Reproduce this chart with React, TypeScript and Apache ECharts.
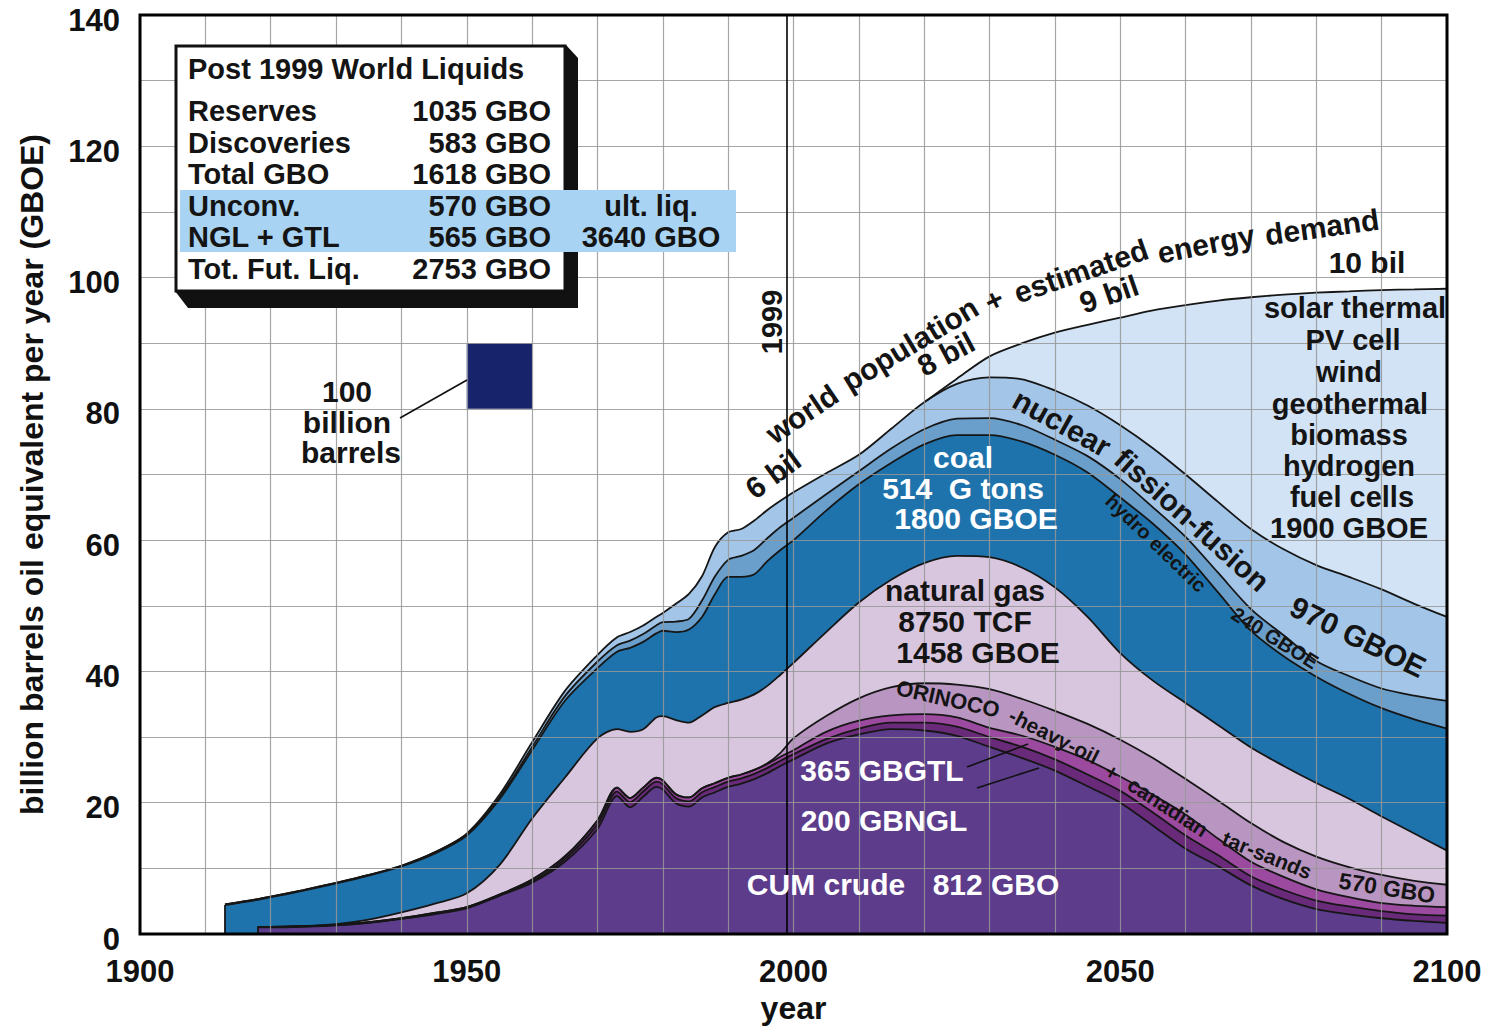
import React, { useEffect, useRef } from 'react';
import * as echarts from 'echarts';

// Years sampled along the x axis
const YEARS = [1913, 1918, 1920, 1925, 1930, 1935, 1940, 1945, 1950, 1955, 1960, 1965, 1970,
  1973, 1975, 1977, 1979, 1980, 1982, 1984, 1986, 1988, 1990, 1992, 1994, 1996, 1998, 2000,
  2005, 2010, 2015, 2020, 2025, 2030, 2035, 2040, 2045, 2050, 2055, 2060, 2065, 2070, 2075, 2080, 2085, 2090, 2095, 2100];

// Cumulative top of each layer (billion barrels oil equivalent per year)
const CRUDE = [null, 1.0, 1.0, 1.1, 1.3, 1.7, 2.3, 3.0, 3.9, 5.8, 7.8, 11.0, 16.0,
  21.0, 19.3, 20.9, 22.4, 22.0, 19.9, 19.4, 20.8, 21.6, 22.4, 22.9, 23.6, 24.5, 25.6, 26.6,
  29.0, 30.4, 31.2, 31.0, 30.2, 28.5, 26.8, 24.9, 22.5, 20.0, 16.5, 13.0, 10.3, 7.4, 5.3, 3.8, 3.0, 2.4, 2.0, 1.7];
const NGL = [null, 1.05, 1.05, 1.15, 1.35, 1.75, 2.35, 3.1, 4.0, 5.9, 8.0, 11.4, 16.7,
  21.7, 20.1, 21.7, 23.2, 22.8, 20.7, 20.2, 21.6, 22.4, 23.2, 23.7, 24.4, 25.3, 26.4, 27.4,
  29.7, 31.3, 32.2, 32.2, 31.6, 30.0, 28.5, 26.6, 24.3, 21.8, 18.5, 15.0, 12.0, 8.8, 6.7, 5.1, 4.2, 3.5, 3.0, 2.8];
const GTL = [null, 1.1, 1.1, 1.2, 1.4, 1.8, 2.4, 3.2, 4.1, 6.0, 8.3, 11.8, 17.3,
  22.3, 20.7, 22.3, 23.8, 23.4, 21.3, 20.8, 22.2, 23.0, 23.8, 24.3, 25.0, 25.9, 27.0, 28.0,
  30.8, 32.5, 33.3, 33.5, 33.0, 31.4, 30.2, 28.5, 26.5, 24.0, 21.2, 18.2, 14.5, 11.0, 8.7, 6.8, 5.6, 4.7, 4.3, 4.1];
const ORINOCO = [null, 1.1, 1.1, 1.2, 1.4, 1.8, 2.4, 3.2, 4.1, 6.0, 8.3, 11.8, 17.3,
  22.3, 20.7, 22.3, 23.8, 23.4, 21.3, 20.8, 22.2, 23.0, 23.8, 24.3, 25.0, 26.0, 27.6, 29.8,
  33.2, 35.9, 37.6, 38.2, 38.0, 37.3, 35.8, 34.0, 32.0, 29.6, 26.8, 23.6, 20.3, 16.9, 14.0, 11.8, 10.2, 9.0, 8.1, 7.5];
const GAS = [null, 1.1, 1.1, 1.2, 1.5, 2.2, 3.3, 4.6, 6.2, 10.5, 17.6, 23.8, 29.8,
  31.2, 30.8, 31.2, 33.0, 33.2, 32.6, 32.2, 33.3, 34.6, 35.2, 35.7, 36.5, 37.8, 39.5, 41.3,
  46.0, 50.5, 54.0, 56.5, 57.6, 57.4, 55.8, 52.8, 48.3, 42.8, 38.6, 35.2, 31.8, 28.4, 25.6, 23.0, 20.6, 17.9, 15.3, 12.7];
const COAL = [4.4, 5.2, 5.6, 6.6, 7.7, 8.9, 10.3, 12.2, 15.0, 20.5, 28.0, 35.5, 40.5,
  43.0, 43.6, 44.5, 45.8, 46.2, 46.0, 46.4, 48.3, 51.8, 54.4, 54.4, 54.8, 56.8, 58.5, 60.0,
  64.5, 68.5, 71.8, 74.6, 76.0, 76.0, 75.0, 73.0, 70.3, 66.5, 62.5, 57.8, 52.0, 46.2, 42.3, 39.2, 36.6, 34.4, 32.7, 31.3];
const HYDRO = [4.5, 5.3, 5.7, 6.7, 7.8, 9.0, 10.4, 12.4, 15.2, 20.8, 28.5, 36.2, 41.5,
  44.0, 44.7, 45.7, 47.0, 47.5, 47.6, 48.0, 50.8, 54.5, 57.0, 57.6, 58.5, 60.3, 62.0, 63.4,
  67.0, 70.5, 74.0, 76.9, 78.5, 78.6, 77.5, 75.3, 72.8, 69.3, 65.0, 60.5, 55.0, 49.5, 45.5, 41.6, 39.3, 37.4, 36.3, 35.5];
const NUCLEAR = [4.5, 5.3, 5.7, 6.7, 7.8, 9.0, 10.4, 12.4, 15.3, 21.2, 29.2, 37.0, 42.5,
  45.2, 46.0, 47.0, 48.3, 48.9, 50.3, 51.8, 54.5, 59.0, 61.2, 61.7, 63.0, 64.6, 66.0, 67.3,
  70.2, 73.0, 77.0, 81.0, 83.8, 84.8, 84.5, 82.8, 80.5, 77.5, 74.0, 70.0, 65.8, 61.7, 58.6, 56.2, 54.4, 52.5, 50.3, 48.3];
const SOLAR = [null, null, null, null, null, null, null, null, null, null, null, null, null,
  null, null, null, null, null, null, null, null, null, null, null, null, null, null, null,
  null, null, null, 81.0, 84.6, 88.0, 90.0, 91.6, 92.8, 93.9, 95.0, 95.8, 96.5, 97.0, 97.4, 97.7, 97.9, 98.1, 98.2, 98.3];

const X_TICKS = [1900, 1950, 2000, 2050, 2100];
const Y_TICKS = [0, 20, 40, 60, 80, 100, 120, 140];
const MARK_YEAR = 1999;
const SQUARE = [[1950, 80], [1960, 90]]; // 100 billion barrels reference square

const TABLE_ROWS = [
  ['Reserves', '1035 GBO'],
  ['Discoveries', '583 GBO'],
  ['Total GBO', '1618 GBO'],
  ['Unconv.', '570 GBO'],
  ['NGL + GTL', '565 GBO'],
  ['Tot. Fut. Liq.', '2753 GBO'],
];

const LAYERS = [
  { name: 'solar thermal / PV / wind / geothermal / biomass / hydrogen / fuel cells', data: SOLAR, color: '#d1e3f5' },
  { name: 'nuclear fission-fusion', data: NUCLEAR, color: '#a3c6e8' },
  { name: 'hydro electric', data: HYDRO, color: '#6b9fcb' },
  { name: 'coal', data: COAL, color: '#1f73ad' },
  { name: 'natural gas', data: GAS, color: '#d8c6de' },
  { name: 'ORINOCO-heavy-oil + canadian tar-sands', data: ORINOCO, color: '#b995c2' },
  { name: 'GTL', data: GTL, color: '#9b4aa0' },
  { name: 'NGL', data: NGL, color: '#6a2a7a' },
  { name: 'CUM crude', data: CRUDE, color: '#5c3c8b' },
];

const SANS = "'Liberation Sans', Arial, Helvetica, sans-serif";
const GRID_COLOR = 'rgba(150,150,150,0.85)';

type TOpts = { rot?: number; fill?: string; align?: string; size?: number };
function txt(text: string, x: number, y: number, o: TOpts = {}) {
  return {
    type: 'text', x, y, z: 100,
    rotation: ((o.rot || 0) * Math.PI) / 180,
    style: {
      text, fill: o.fill || '#141414',
      font: `bold ${o.size || 30}px ${SANS}`,
      textAlign: o.align || 'center', textVerticalAlign: 'middle',
    },
  };
}
function seg(x1: number, y1: number, x2: number, y2: number) {
  return { type: 'line', z: 100, shape: { x1, y1, x2, y2 }, style: { stroke: '#111', lineWidth: 1.6 } };
}

function firstIndex(arr: (number | null)[]) {
  return arr.findIndex((v) => v !== null && v !== undefined);
}
function edgeLine(arr: (number | null)[]) {
  const i = firstIndex(arr);
  return [{ coord: [YEARS[i], 0] }, { coord: [YEARS[i], arr[i]] }];
}

function buildOption() {
  const series: any[] = LAYERS.map((l, idx) => {
    const pts: any[] = [];
    YEARS.forEach((yr, i) => {
      const v = l.data[i];
      if (v !== null && v !== undefined) pts.push([yr, v]);
    });
    const s: any = {
      name: l.name, type: 'line', data: pts, showSymbol: false, symbol: 'none',
      smooth: 0.3, z: 2,
      lineStyle: { color: '#161616', width: 1.8 },
      areaStyle: { color: l.color, opacity: 1, origin: 'start' },
      itemStyle: { color: l.color },
      silent: true,
    };
    const markLineBase = {
      silent: true, symbol: ['none', 'none'], label: { show: false },
      lineStyle: { color: '#161616', width: 1.8, type: 'solid' },
    };
    if (l.data === COAL) {
      s.markLine = { ...markLineBase, data: [edgeLine(COAL)] };
    }
    if (idx === LAYERS.length - 1) {
      s.markLine = {
        ...markLineBase,
        data: [{ xAxis: MARK_YEAR, lineStyle: { color: '#000', width: 1.6 } }, edgeLine(CRUDE)],
      };
      s.markArea = {
        silent: true, itemStyle: { color: '#17246c' }, label: { show: false },
        data: [[{ coord: SQUARE[0] }, { coord: SQUARE[1] }]],
      };
    }
    return s;
  });

  const tableEls: any[] = [
    { type: 'polygon', z: 99, shape: { points: [[566, 45], [578, 58], [578, 308], [188, 308], [175, 291]] }, style: { fill: '#111' } },
    { type: 'rect', z: 99, shape: { x: 176, y: 46, width: 389, height: 245 }, style: { fill: '#fff', stroke: '#111', lineWidth: 3 } },
    { type: 'rect', z: 99, shape: { x: 180, y: 190, width: 556, height: 62 }, style: { fill: '#a8d3f2' } },
    txt('Post 1999 World Liquids', 188, 69, { align: 'left', size: 29 }),
  ];
  const rowY = [111, 143, 174, 206, 237, 269];
  TABLE_ROWS.forEach((r, i) => {
    tableEls.push(txt(r[0], 188, rowY[i], { align: 'left', size: 29 }));
    tableEls.push(txt(r[1], 551, rowY[i], { align: 'right', size: 29 }));
  });
  tableEls.push(txt('ult. liq.', 651, 206, { size: 29 }));
  tableEls.push(txt('3640 GBO', 651, 237, { size: 29 }));

  const W = '#ffffff';
  const notes: any[] = [
    seg(400, 418, 467, 380),
    txt('100', 347, 391), txt('billion', 347, 422), txt('barrels', 351, 452),
    txt('1999', 772, 322, { rot: 90, size: 29 }),
    txt('6 bil', 773, 474, { rot: 36 }),
    txt('world', 802, 414, { rot: 34, size: 30 }),
    txt('population', 910, 344, { rot: 31, size: 30 }),
    txt('+', 994, 300, { rot: 25, size: 30 }),
    txt('estimated', 1081, 271, { rot: 19, size: 30 }),
    txt('energy', 1206, 244, { rot: 11, size: 30 }),
    txt('demand', 1322, 227, { rot: 8, size: 30 }),
    txt('8 bil', 946, 354, { rot: 28 }),
    txt('9 bil', 1109, 294, { rot: 19 }),
    txt('10 bil', 1367, 262),
    txt('coal', 963, 457, { fill: W }),
    txt('514  G tons', 963, 488, { fill: W }),
    txt('1800 GBOE', 976, 518, { fill: W }),
    txt('nuclear', 1062, 423, { rot: -29 }),
    txt('fission-fusion', 1192, 520, { rot: -42 }),
    txt('hydro electric', 1156, 543, { rot: -44, size: 20 }),
    txt('240 GBOE', 1275, 638, { rot: -32, size: 20 }),
    txt('970 GBOE', 1358, 637, { rot: -26 }),
    txt('solar thermal', 1355, 308, { size: 29 }), txt('PV cell', 1353, 340, { size: 29 }),
    txt('wind', 1349, 372, { size: 29 }), txt('geothermal', 1350, 404, { size: 29 }),
    txt('biomass', 1349, 435, { size: 29 }), txt('hydrogen', 1349, 466, { size: 29 }),
    txt('fuel cells', 1352, 497, { size: 29 }), txt('1900 GBOE', 1349, 528, { size: 29 }),
    txt('natural gas', 965, 590), txt('8750 TCF', 965, 621), txt('1458 GBOE', 978, 652),
    txt('ORINOCO', 948, 699, { rot: -12.6, size: 22 }),
    txt('-heavy-oil', 1054, 736, { rot: -27, size: 21 }),
    txt('+', 1112, 772, { rot: -30, size: 21 }),
    txt('canadian', 1168, 807, { rot: -33, size: 21 }),
    txt('tar-sands', 1267, 855, { rot: -22, size: 21 }),
    txt('570 GBO', 1387, 888, { rot: -9, size: 23 }),
    txt('365 GBGTL', 882, 770, { fill: W }),
    txt('200 GBNGL', 884, 820, { fill: W }),
    txt('CUM crude', 826, 884, { fill: W }),
    txt('812 GBO', 996, 884, { fill: W }),
    seg(967, 767, 1028, 744),
    seg(977, 788, 1039, 768),
    { type: 'rect', z: 101, shape: { x: 140, y: 15, width: 1307, height: 919 }, style: { fill: 'none', stroke: '#000', lineWidth: 3 } },
  ];

  const axisText = { fontFamily: SANS, fontWeight: 'bold', color: '#111' };
  return {
    animation: false,
    backgroundColor: '#ffffff',
    grid: { left: 140, top: 15, width: 1307, height: 919, containLabel: false },
    xAxis: {
      type: 'value', min: X_TICKS[0], max: X_TICKS[X_TICKS.length - 1], interval: 50, z: 3,
      name: 'year', nameLocation: 'middle', nameGap: 54,
      nameTextStyle: { ...axisText, fontSize: 32 },
      axisLine: { show: false }, axisTick: { show: false },
      axisLabel: { ...axisText, fontSize: 31, margin: 22, formatter: (v: number) => String(v) },
      splitLine: { show: true, lineStyle: { color: GRID_COLOR, width: 1.2 } },
      minorTick: { show: false, splitNumber: 5 },
      minorSplitLine: { show: true, lineStyle: { color: GRID_COLOR, width: 1.2 } },
    },
    yAxis: {
      type: 'value', min: Y_TICKS[0], max: Y_TICKS[Y_TICKS.length - 1], interval: 20, z: 3,
      name: 'billion barrels oil equivalent per year (GBOE)', nameLocation: 'middle', nameGap: 92, nameRotate: 90,
      nameTextStyle: { ...axisText, fontSize: 32 },
      axisLine: { show: false }, axisTick: { show: false },
      axisLabel: { ...axisText, fontSize: 31, margin: 20, verticalAlign: 'top', lineHeight: 10, formatter: (v: number) => String(v) },
      splitLine: { show: true, lineStyle: { color: GRID_COLOR, width: 1.2 } },
      minorTick: { show: false, splitNumber: 2 },
      minorSplitLine: { show: true, lineStyle: { color: GRID_COLOR, width: 1.2 } },
    },
    series,
    graphic: { elements: [...tableEls, ...notes] },
  };
}

export default function App() {
  const ref = useRef<HTMLDivElement>(null);
  useEffect(() => {
    if (!ref.current) return;
    const chart = echarts.init(ref.current, undefined, { renderer: 'svg' });
    chart.setOption(buildOption() as any);
    return () => chart.dispose();
  }, []);
  return <div ref={ref} style={{ position: 'absolute', left: 0, top: 0, width: 1491, height: 1033, background: '#fff' }} />;
}
